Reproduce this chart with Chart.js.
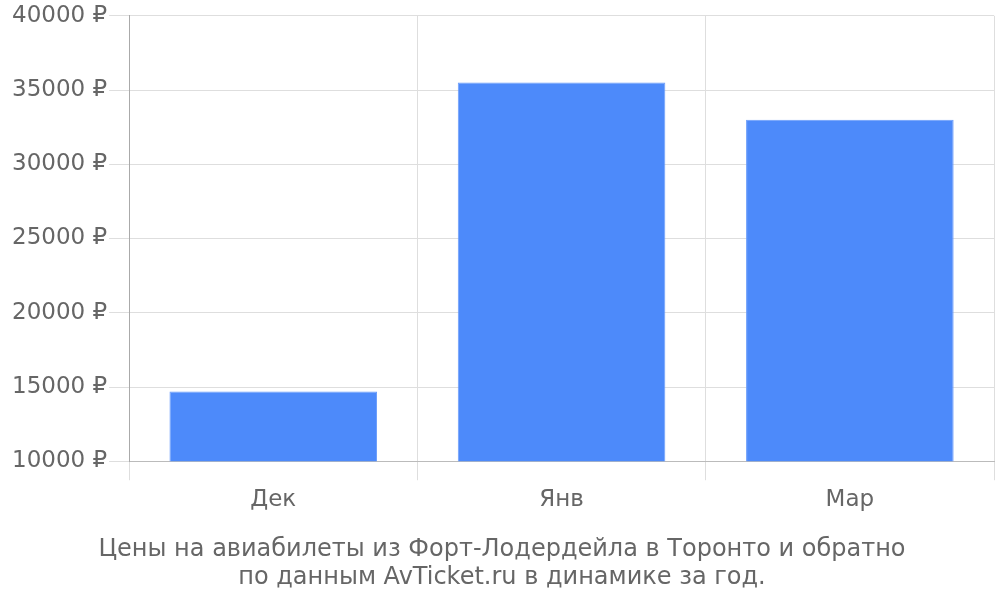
<!DOCTYPE html>
<html>
<head>
<meta charset="utf-8">
<script src="https://cdn.jsdelivr.net/npm/chart.js@4"></script>
<style>
  html, body { margin: 0; padding: 0; background: #fff; }
  #wrap { width: 1000px; height: 600px; }
</style>
</head>
<body>
<div id="wrap"><canvas id="myChart"></canvas></div>
<script>
const months = ["Дек", "Янв", "Мар"];
const prices = [14700, 35500, 33000];
const titleLines = [
  "Цены на авиабилеты из Форт-Лодердейла в Торонто и обратно",
  "по данным AvTicket.ru в динамике за год."
];

const ctx = document.getElementById("myChart").getContext("2d");
Chart.defaults.font.family = "DejaVu Sans";
Chart.defaults.color = "#666";

const myChart = new Chart(ctx, {
  type: "bar",
  data: {
    labels: months,
    datasets: [
      {
        label: "Цена",
        data: prices,
        backgroundColor: "#4d8afa",
        borderColor: "#6a9cfb",
        borderWidth: 1,
        barPercentage: 0.9,
        categoryPercentage: 0.8,
      },
    ],
  },
  options: {
    responsive: true,
    maintainAspectRatio: false,
    animation: false,
    layout: { padding: { left: 10, right: 6 } },
    plugins: {
      legend: { display: false },
      tooltip: { enabled: false },
      title: {
        display: true,
        position: "bottom",
        text: titleLines,
        color: "#666",
        font: { size: 24, weight: "normal", lineHeight: 1.17 },
        padding: { top: 16, bottom: 8 },
      },
    },
    scales: {
      x: {
        grid: { color: "#dedede", tickLength: 19 },
        border: { color: "#bbb" },
        ticks: { font: { size: 23 }, color: "#666", padding: 6 },
      },
      y: {
        min: 10000,
        max: 40000,
        grid: { color: "#dedede", tickLength: 20 },
        border: { color: "#aaa" },
        ticks: {
          stepSize: 5000,
          font: { size: 23 },
          color: "#666",
          padding: 2,
          callback: (v) => v + " ₽",
        },
      },
    },
  },
});
</script>
</body>
</html>
